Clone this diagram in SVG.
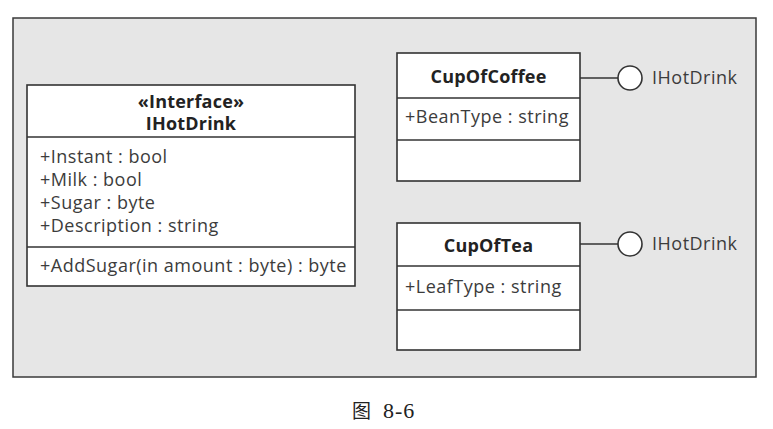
<svg xmlns="http://www.w3.org/2000/svg" width="773" height="429" viewBox="0 0 773 429">
<style>
.frame{fill:#e6e6e6;stroke:#3a3a3a;stroke-width:1.5}
.box{fill:#fff;stroke:#333;stroke-width:1.6}
.div{stroke:#333;stroke-width:1.6}
.t{font-family:"Open Sans","Liberation Sans",sans-serif;font-size:18px;letter-spacing:0.5px;fill:#3c3c3c}
.b{font-family:"Open Sans","Liberation Sans",sans-serif;font-size:18px;letter-spacing:0.2px;font-weight:bold;fill:#222;text-anchor:middle}
.conn{stroke:#333;stroke-width:1.6;fill:none}
.lol{fill:#fff;stroke:#333;stroke-width:1.6}
.cap{font-family:"Liberation Serif","Noto Sans CJK SC",serif;font-size:19px;fill:#222}
</style>
<rect class="frame" x="13" y="18" width="743" height="359"/>
<g id="IHotDrink">
<rect class="box" x="27" y="85" width="328" height="201"/>
<line class="div" x1="27" y1="137" x2="355" y2="137"/>
<line class="div" x1="27" y1="247" x2="355" y2="247"/>
<text class="b" x="191" y="108">«Interface»</text>
<text class="b" x="191" y="130">IHotDrink</text>
<text class="t" x="40" y="163">+Instant : bool</text>
<text class="t" x="40" y="186">+Milk : bool</text>
<text class="t" x="40" y="209">+Sugar : byte</text>
<text class="t" x="40" y="232">+Description : string</text>
<text class="t" x="40" y="272">+AddSugar(in amount : byte) : byte</text>
</g>
<g id="CupOfCoffee">
<rect class="box" x="397" y="53" width="183" height="128"/>
<line class="div" x1="397" y1="98" x2="580" y2="98"/>
<line class="div" x1="397" y1="140" x2="580" y2="140"/>
<text class="b" x="488.5" y="83">CupOfCoffee</text>
<text class="t" x="405" y="123">+BeanType : string</text>
</g>
<g id="CupOfTea">
<rect class="box" x="397" y="223" width="183" height="127"/>
<line class="div" x1="397" y1="266" x2="580" y2="266"/>
<line class="div" x1="397" y1="310" x2="580" y2="310"/>
<text class="b" x="488.5" y="252">CupOfTea</text>
<text class="t" x="405" y="293">+LeafType : string</text>
</g>
<g id="connectors">
<line class="conn" x1="580" y1="78" x2="618" y2="78"/>
<line class="conn" x1="580" y1="244" x2="618" y2="244"/>
</g>
<g id="lollipop1">
<circle class="lol" cx="630" cy="78" r="12"/>
<text class="t" x="652" y="84">IHotDrink</text>
</g>
<g id="lollipop2">
<circle class="lol" cx="630" cy="244" r="12"/>
<text class="t" x="652" y="250">IHotDrink</text>
</g>
<text class="cap" x="352" y="418">图 <tspan x="383" font-size="22" letter-spacing="1">8-6</tspan></text>
</svg>
